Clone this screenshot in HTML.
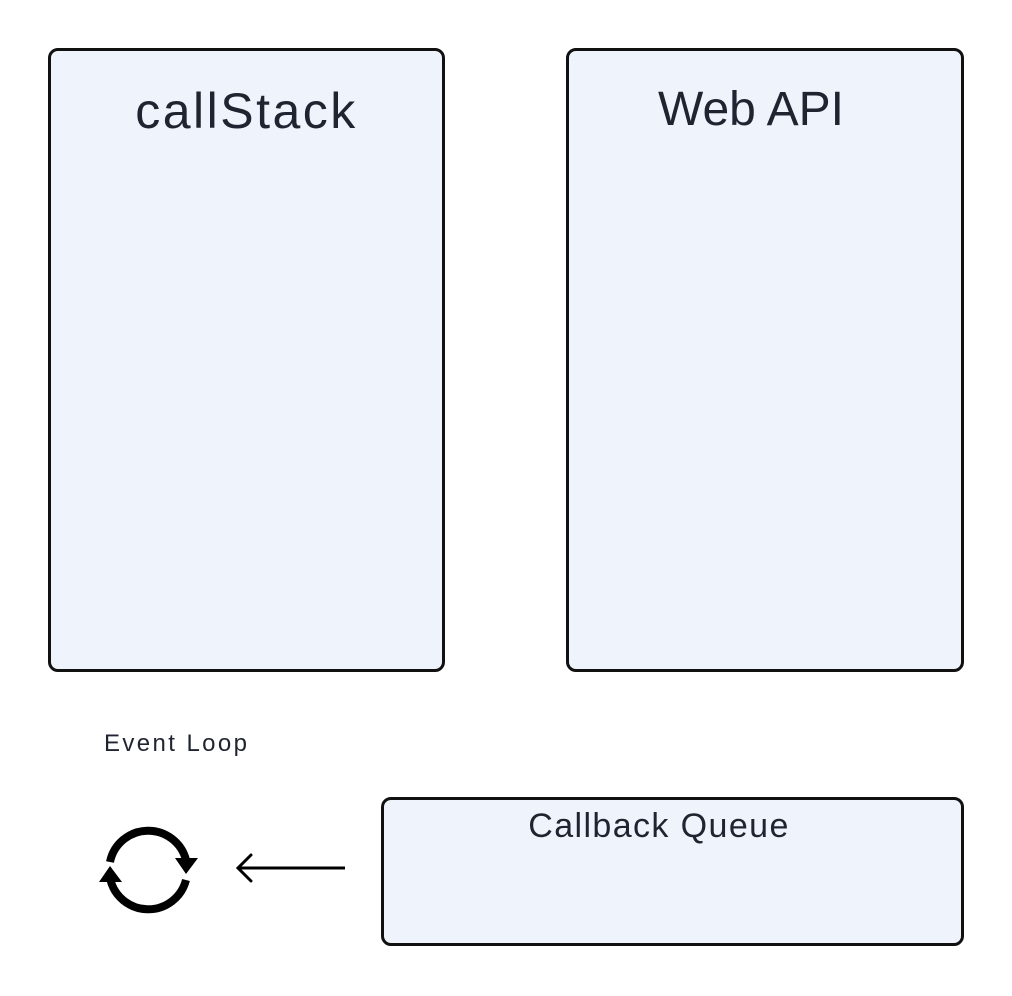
<!DOCTYPE html>
<html><head><style>
body{margin:0;width:1012px;height:996px;background:#fff;position:relative;overflow:hidden;font-family:"Liberation Sans","Noto Sans CJK SC",sans-serif;color:#1f2430}
.b{position:absolute;box-sizing:border-box;border:3px solid #111;border-radius:10px;background:#eef3fc}
.t{position:absolute;text-align:center;white-space:nowrap}
</style></head><body>
<div class="b" style="left:48px;top:48px;width:397px;height:624px"></div>
<div class="b" style="left:566px;top:48px;width:398px;height:624px"></div>
<div class="b" style="left:381px;top:797px;width:583px;height:149px"></div>
<div class="t" style="left:48px;width:397px;top:82px;font-size:50px;letter-spacing:2.5px">callStack</div>
<div class="t" style="left:566px;width:370px;top:82px;font-size:48px">Web API</div>
<div class="t" style="left:381px;width:556px;top:807px;font-size:34px;letter-spacing:1.4px">Callback Queue</div>
<div class="t" style="left:104px;top:730px;font-size:24px;letter-spacing:2.4px">Event Loop</div>
<svg width="1012" height="996" style="position:absolute;left:0;top:0">
<path d="M110 862 A39 39 0 0 1 186 860" fill="none" stroke="#000" stroke-width="8"/>
<polygon points="175,858 198,858 186,874" fill="#000"/>
<path d="M186 880 A39 39 0 0 1 110 878" fill="none" stroke="#000" stroke-width="8"/>
<polygon points="99,882 122,882 110,866" fill="#000"/>
<line x1="345" y1="868" x2="238" y2="868" stroke="#000" stroke-width="3"/>
<polyline points="251,855 238,868 251,881" fill="none" stroke="#000" stroke-width="3" stroke-linecap="round"/>
</svg>
</body></html>
